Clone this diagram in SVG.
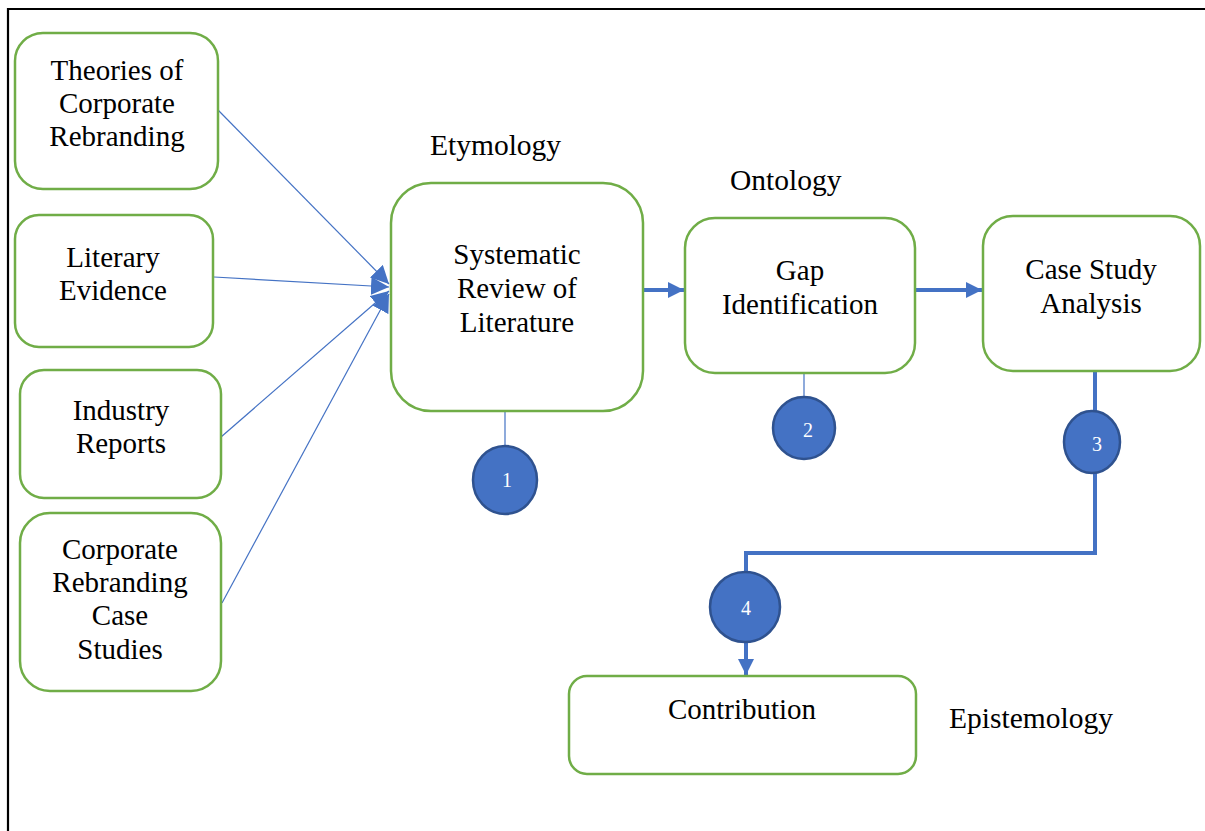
<svg xmlns="http://www.w3.org/2000/svg" width="1205" height="831" viewBox="0 0 1205 831">
  <defs>
    <style>
      .box { fill: #ffffff; stroke: #70AD47; stroke-width: 2.5; }
      text { font-family: 'Liberation Serif', 'DejaVu Serif', serif; }
      .lbl { font-size: 29px; fill: #000; text-anchor: middle; }
      .side { font-size: 29.5px; fill: #000; }
      .thin { fill: none; stroke: #4472C4; stroke-width: 1.2; }
      .thick { fill: none; stroke: #4472C4; stroke-width: 4; }
      .badge { fill: #4472C4; stroke: #2F528F; stroke-width: 2.5; }
      .num { font-size: 20px; fill: #ffffff; text-anchor: middle; }
    </style>
    <marker id="ahThin" viewBox="0 0 10 10" refX="10" refY="5" markerWidth="18" markerHeight="18" markerUnits="userSpaceOnUse" orient="auto">
      <path d="M0,0 L10,5 L0,10 z" fill="#4472C4"/>
    </marker>
    <marker id="ahThick" viewBox="0 0 10 10" refX="10" refY="5" markerWidth="4" markerHeight="4" orient="auto">
      <path d="M0,0 L10,5 L0,10 z" fill="#4472C4"/>
    </marker>
  </defs>

  <!-- frame -->
  <path d="M8,831 L8,9 L1205,9" fill="none" stroke="#000" stroke-width="2.2"/>

  <!-- connectors -->
  <g id="connectors">
    <line class="thin" x1="218" y1="110" x2="389" y2="284" marker-end="url(#ahThin)"/>
    <line class="thin" x1="214" y1="277" x2="389" y2="287" marker-end="url(#ahThin)"/>
    <line class="thin" x1="221" y1="437" x2="389" y2="291" marker-end="url(#ahThin)"/>
    <line class="thin" x1="222" y1="603" x2="389" y2="294" marker-end="url(#ahThin)"/>
    <line class="thick" x1="643" y1="290" x2="684" y2="290" marker-end="url(#ahThick)"/>
    <line class="thick" x1="915" y1="290" x2="982" y2="290" marker-end="url(#ahThick)"/>
    <line class="thin" x1="505" y1="411" x2="505" y2="447"/>
    <line class="thin" x1="804" y1="373" x2="804" y2="399"/>
    <line class="thick" x1="1095" y1="371" x2="1095" y2="411"/>
    <path class="thick" d="M1095,472 L1095,553 L746,553 L746,573"/>
    <line class="thick" x1="746" y1="641" x2="746" y2="675" marker-end="url(#ahThick)"/>
  </g>

  <!-- input sources -->
  <g id="theories">
    <rect class="box" x="15" y="33" width="203" height="156" rx="28"/>
    <text class="lbl" x="117" y="80">Theories of</text>
    <text class="lbl" x="117" y="113">Corporate</text>
    <text class="lbl" x="117" y="146">Rebranding</text>
  </g>
  <g id="literary">
    <rect class="box" x="15" y="215" width="198" height="132" rx="24"/>
    <text class="lbl" x="113" y="267">Literary</text>
    <text class="lbl" x="113" y="300">Evidence</text>
  </g>
  <g id="industry">
    <rect class="box" x="20" y="370" width="201" height="128" rx="24"/>
    <text class="lbl" x="121" y="420">Industry</text>
    <text class="lbl" x="121" y="453">Reports</text>
  </g>
  <g id="cases">
    <rect class="box" x="20" y="513" width="201" height="178" rx="30"/>
    <text class="lbl" x="120" y="559">Corporate</text>
    <text class="lbl" x="120" y="592">Rebranding</text>
    <text class="lbl" x="120" y="625">Case</text>
    <text class="lbl" x="120" y="659">Studies</text>
  </g>

  <!-- main flow -->
  <g id="review">
    <rect class="box" x="391" y="183" width="252" height="228" rx="40"/>
    <text class="lbl" x="517" y="264">Systematic</text>
    <text class="lbl" x="517" y="298">Review of</text>
    <text class="lbl" x="517" y="332">Literature</text>
  </g>
  <g id="gap">
    <rect class="box" x="685" y="218" width="230" height="155" rx="30"/>
    <text class="lbl" x="800" y="280">Gap</text>
    <text class="lbl" x="800" y="314">Identification</text>
  </g>
  <g id="casestudy">
    <rect class="box" x="983" y="216" width="217" height="155" rx="30"/>
    <text class="lbl" x="1091" y="279">Case Study</text>
    <text class="lbl" x="1091" y="313">Analysis</text>
  </g>
  <g id="contribution">
    <rect class="box" x="569" y="676" width="347" height="98" rx="18"/>
    <text class="lbl" x="742" y="719">Contribution</text>
  </g>

  <!-- phase labels -->
  <g id="labels">
    <text class="side" x="430" y="155">Etymology</text>
    <text class="side" x="730" y="190">Ontology</text>
    <text class="side" x="949" y="728">Epistemology</text>
  </g>

  <!-- step badges -->
  <g id="step1">
    <ellipse class="badge" cx="505" cy="480" rx="32" ry="34"/>
    <text class="num" x="507" y="487">1</text>
  </g>
  <g id="step2">
    <ellipse class="badge" cx="804" cy="428" rx="31" ry="31"/>
    <text class="num" x="808" y="437">2</text>
  </g>
  <g id="step3">
    <ellipse class="badge" cx="1092" cy="442" rx="28" ry="31"/>
    <text class="num" x="1097" y="451">3</text>
  </g>
  <g id="step4">
    <ellipse class="badge" cx="745" cy="607" rx="35" ry="35"/>
    <text class="num" x="746" y="615">4</text>
  </g>
</svg>
